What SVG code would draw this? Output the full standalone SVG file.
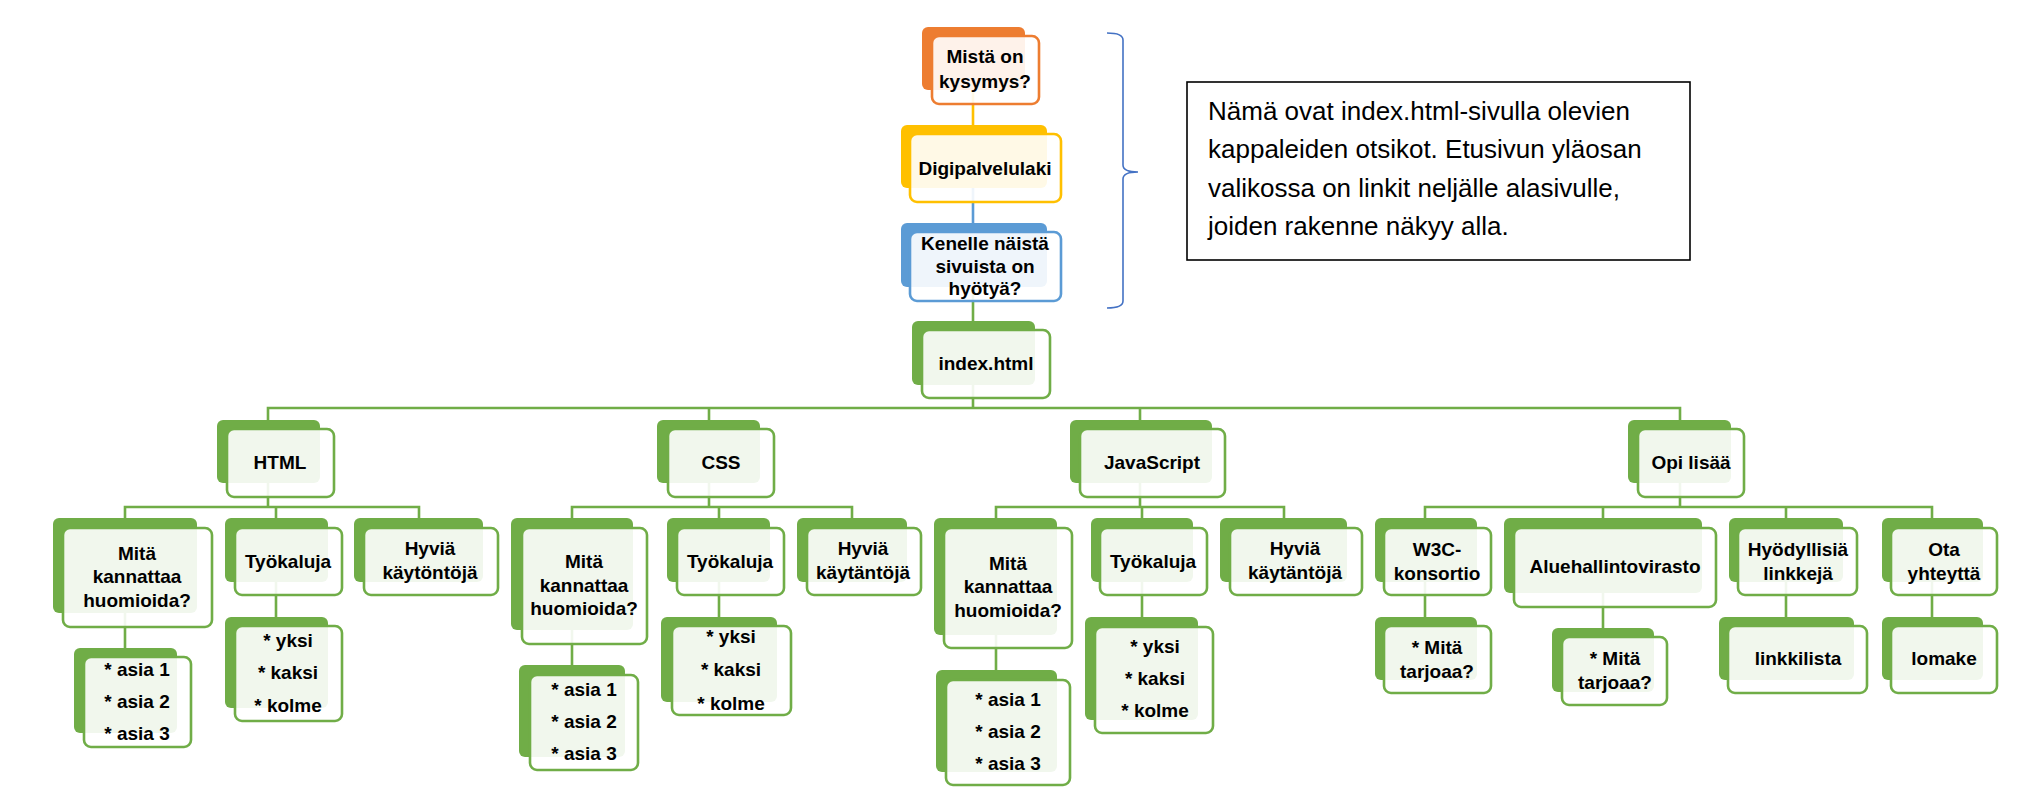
<svg xmlns="http://www.w3.org/2000/svg" width="2027" height="807" viewBox="0 0 2027 807">
<style>
.bg{fill:#70AD47}
.fg{fill:#ffffff;fill-opacity:0.9;stroke:#70AD47;stroke-width:2.6}
.bo{fill:#ED7D31}.fo{fill:#ffffff;fill-opacity:0.9;stroke:#ED7D31;stroke-width:2.6}
.by{fill:#FFC000}.fy{fill:#ffffff;fill-opacity:0.9;stroke:#FFC000;stroke-width:2.6}
.bb{fill:#5B9BD5}.fb{fill:#ffffff;fill-opacity:0.9;stroke:#5B9BD5;stroke-width:2.6}
.t{font-family:"Liberation Sans",Arial,sans-serif;font-weight:bold;font-size:19px;text-anchor:middle;fill:#000}
.note{font-family:"Liberation Sans",Arial,sans-serif;font-size:26px;fill:#000}
.c{fill:none;stroke:#70AD47;stroke-width:2.6}
</style>
<rect width="2027" height="807" fill="#ffffff"/>
<g id="connectors">
<line x1="973" y1="90" x2="973" y2="125" stroke="#FFC000" stroke-width="2.6"/>
<line x1="973" y1="188" x2="973" y2="223" stroke="#5B9BD5" stroke-width="2.6"/>
<line x1="973" y1="287" x2="973" y2="321" class="c"/>
<path class="c" d="M973 385V408M268 420V408H1680V420M709 408V420M1140 408V420"/>
<path class="c" d="M268 483V507M125 518V507H419V518M276 507V518M125 613V648M276 582V617"/>
<path class="c" d="M709 483V507M572 518V507H852V518M719 507V518M572 630V665M719 582V617"/>
<path class="c" d="M1140 483V507M996 518V507H1284V518M1142 507V518M996 635V670M1142 582V617"/>
<path class="c" d="M1680 483V507M1425 518V507H1932V518M1603 507V518M1786 507V518M1425 582V617M1603 593V628M1786 582V617M1932 582V617"/>
</g>
<g id="brace">
<path d="M1107 33Q1123 33 1123 40V165Q1123 172 1138 172Q1123 172 1123 179V301Q1123 308 1107 308" fill="none" stroke="#4472C4" stroke-width="1.6"/>
</g>
<g id="note">
<rect x="1187" y="82" width="503" height="178" fill="#ffffff" stroke="#000" stroke-width="1.6"/>
<text class="note" x="1208" y="120">Nämä ovat index.html-sivulla olevien</text>
<text class="note" x="1208" y="158">kappaleiden otsikot. Etusivun yläosan</text>
<text class="note" x="1208" y="197">valikossa on linkit neljälle alasivulle,</text>
<text class="note" x="1208" y="235">joiden rakenne näkyy alla.</text>
</g>
<g id="n-mista">
<rect class="bo" x="922" y="27" width="103" height="63" rx="6"/>
<rect class="fo" x="932" y="36" width="107" height="68" rx="7"/>
<text class="t" x="985" y="63">Mistä on</text>
<text class="t" x="985" y="88">kysymys?</text>
</g>
<g id="n-digi">
<rect class="by" x="901" y="125" width="146" height="63" rx="6"/>
<rect class="fy" x="910" y="134" width="151" height="68" rx="7"/>
<text class="t" x="985" y="175">Digipalvelulaki</text>
</g>
<g id="n-kenelle">
<rect class="bb" x="901" y="223" width="146" height="64" rx="6"/>
<rect class="fb" x="910" y="232" width="151" height="69" rx="7"/>
<text class="t" x="985" y="250">Kenelle näistä</text>
<text class="t" x="985" y="273">sivuista on</text>
<text class="t" x="985" y="295">hyötyä?</text>
</g>
<g id="n-index">
<rect class="bg" x="912" y="321" width="123" height="64" rx="6"/>
<rect class="fg" x="922" y="330" width="128" height="68" rx="7"/>
<text class="t" x="986" y="370">index.html</text>
</g>
<g id="n-html">
<rect class="bg" x="217" y="420" width="103" height="63" rx="6"/>
<rect class="fg" x="227" y="429" width="107" height="68" rx="7"/>
<text class="t" x="280" y="469">HTML</text>
</g>
<g id="n-css">
<rect class="bg" x="657" y="420" width="103" height="63" rx="6"/>
<rect class="fg" x="668" y="429" width="106" height="68" rx="7"/>
<text class="t" x="721" y="469">CSS</text>
</g>
<g id="n-js">
<rect class="bg" x="1070" y="420" width="142" height="63" rx="6"/>
<rect class="fg" x="1080" y="429" width="145" height="68" rx="7"/>
<text class="t" x="1152" y="469">JavaScript</text>
</g>
<g id="n-opi">
<rect class="bg" x="1628" y="420" width="103" height="63" rx="6"/>
<rect class="fg" x="1638" y="429" width="106" height="68" rx="7"/>
<text class="t" x="1691" y="469">Opi lisää</text>
</g>
<g id="n-html-mita">
<rect class="bg" x="53" y="518" width="144" height="95" rx="6"/>
<rect class="fg" x="63" y="528" width="149" height="99" rx="7"/>
<text class="t" x="137" y="560">Mitä</text>
<text class="t" x="137" y="583">kannattaa</text>
<text class="t" x="137" y="607">huomioida?</text>
</g>
<g id="n-html-tyo">
<rect class="bg" x="225" y="518" width="103" height="64" rx="6"/>
<rect class="fg" x="235" y="528" width="107" height="67" rx="7"/>
<text class="t" x="288" y="568">Työkaluja</text>
</g>
<g id="n-html-hyvia">
<rect class="bg" x="354" y="518" width="129" height="64" rx="6"/>
<rect class="fg" x="364" y="528" width="134" height="67" rx="7"/>
<text class="t" x="430" y="555">Hyviä</text>
<text class="t" x="430" y="579">käytöntöjä</text>
</g>
<g id="n-html-asia">
<rect class="bg" x="74" y="648" width="103" height="85" rx="6"/>
<rect class="fg" x="84" y="657" width="107" height="90" rx="7"/>
<text class="t" x="137" y="676">* asia 1</text>
<text class="t" x="137" y="708">* asia 2</text>
<text class="t" x="137" y="740">* asia 3</text>
</g>
<g id="n-html-yksi">
<rect class="bg" x="225" y="617" width="103" height="91" rx="6"/>
<rect class="fg" x="235" y="626" width="107" height="95" rx="7"/>
<text class="t" x="288" y="647">* yksi</text>
<text class="t" x="288" y="679">* kaksi</text>
<text class="t" x="288" y="712">* kolme</text>
</g>
<g id="n-css-mita">
<rect class="bg" x="511" y="518" width="122" height="112" rx="6"/>
<rect class="fg" x="522" y="528" width="125" height="116" rx="7"/>
<text class="t" x="584" y="568">Mitä</text>
<text class="t" x="584" y="592">kannattaa</text>
<text class="t" x="584" y="615">huomioida?</text>
</g>
<g id="n-css-tyo">
<rect class="bg" x="667" y="518" width="103" height="64" rx="6"/>
<rect class="fg" x="677" y="528" width="107" height="67" rx="7"/>
<text class="t" x="730" y="568">Työkaluja</text>
</g>
<g id="n-css-hyvia">
<rect class="bg" x="797" y="518" width="110" height="64" rx="6"/>
<rect class="fg" x="807" y="528" width="114" height="67" rx="7"/>
<text class="t" x="863" y="555">Hyviä</text>
<text class="t" x="863" y="579">käytäntöjä</text>
</g>
<g id="n-css-asia">
<rect class="bg" x="519" y="665" width="106" height="92" rx="6"/>
<rect class="fg" x="530" y="675" width="108" height="95" rx="7"/>
<text class="t" x="584" y="696">* asia 1</text>
<text class="t" x="584" y="728">* asia 2</text>
<text class="t" x="584" y="760">* asia 3</text>
</g>
<g id="n-css-yksi">
<rect class="bg" x="661" y="617" width="116" height="85" rx="6"/>
<rect class="fg" x="672" y="626" width="119" height="89" rx="7"/>
<text class="t" x="731" y="643">* yksi</text>
<text class="t" x="731" y="676">* kaksi</text>
<text class="t" x="731" y="710">* kolme</text>
</g>
<g id="n-js-mita">
<rect class="bg" x="934" y="518" width="123" height="117" rx="6"/>
<rect class="fg" x="944" y="528" width="128" height="120" rx="7"/>
<text class="t" x="1008" y="570">Mitä</text>
<text class="t" x="1008" y="593">kannattaa</text>
<text class="t" x="1008" y="617">huomioida?</text>
</g>
<g id="n-js-tyo">
<rect class="bg" x="1091" y="518" width="102" height="64" rx="6"/>
<rect class="fg" x="1100" y="528" width="107" height="67" rx="7"/>
<text class="t" x="1153" y="568">Työkaluja</text>
</g>
<g id="n-js-hyvia">
<rect class="bg" x="1220" y="518" width="127" height="64" rx="6"/>
<rect class="fg" x="1230" y="528" width="132" height="67" rx="7"/>
<text class="t" x="1295" y="555">Hyviä</text>
<text class="t" x="1295" y="579">käytäntöjä</text>
</g>
<g id="n-js-asia">
<rect class="bg" x="936" y="670" width="121" height="102" rx="6"/>
<rect class="fg" x="946" y="680" width="124" height="105" rx="7"/>
<text class="t" x="1008" y="706">* asia 1</text>
<text class="t" x="1008" y="738">* asia 2</text>
<text class="t" x="1008" y="770">* asia 3</text>
</g>
<g id="n-js-yksi">
<rect class="bg" x="1085" y="617" width="113" height="103" rx="6"/>
<rect class="fg" x="1095" y="627" width="118" height="106" rx="7"/>
<text class="t" x="1155" y="653">* yksi</text>
<text class="t" x="1155" y="685">* kaksi</text>
<text class="t" x="1155" y="717">* kolme</text>
</g>
<g id="n-w3c">
<rect class="bg" x="1375" y="518" width="102" height="64" rx="6"/>
<rect class="fg" x="1384" y="528" width="107" height="67" rx="7"/>
<text class="t" x="1437" y="556">W3C-</text>
<text class="t" x="1437" y="580">konsortio</text>
</g>
<g id="n-alue">
<rect class="bg" x="1504" y="518" width="198" height="75" rx="6"/>
<rect class="fg" x="1514" y="528" width="202" height="79" rx="7"/>
<text class="t" x="1615" y="573">Aluehallintovirasto</text>
</g>
<g id="n-hyod">
<rect class="bg" x="1729" y="518" width="114" height="64" rx="6"/>
<rect class="fg" x="1738" y="528" width="119" height="67" rx="7"/>
<text class="t" x="1798" y="556">Hyödyllisiä</text>
<text class="t" x="1798" y="580">linkkejä</text>
</g>
<g id="n-ota">
<rect class="bg" x="1882" y="518" width="101" height="64" rx="6"/>
<rect class="fg" x="1891" y="528" width="106" height="67" rx="7"/>
<text class="t" x="1944" y="556">Ota</text>
<text class="t" x="1944" y="580">yhteyttä</text>
</g>
<g id="n-w3c-mita">
<rect class="bg" x="1375" y="617" width="102" height="63" rx="6"/>
<rect class="fg" x="1384" y="626" width="107" height="67" rx="7"/>
<text class="t" x="1437" y="654">* Mitä</text>
<text class="t" x="1437" y="678">tarjoaa?</text>
</g>
<g id="n-alue-mita">
<rect class="bg" x="1552" y="628" width="102" height="64" rx="6"/>
<rect class="fg" x="1562" y="637" width="105" height="68" rx="7"/>
<text class="t" x="1615" y="665">* Mitä</text>
<text class="t" x="1615" y="689">tarjoaa?</text>
</g>
<g id="n-linkkilista">
<rect class="bg" x="1719" y="617" width="135" height="63" rx="6"/>
<rect class="fg" x="1728" y="626" width="139" height="67" rx="7"/>
<text class="t" x="1798" y="665">linkkilista</text>
</g>
<g id="n-lomake">
<rect class="bg" x="1882" y="617" width="101" height="63" rx="6"/>
<rect class="fg" x="1891" y="626" width="106" height="67" rx="7"/>
<text class="t" x="1944" y="665">lomake</text>
</g>
</svg>
